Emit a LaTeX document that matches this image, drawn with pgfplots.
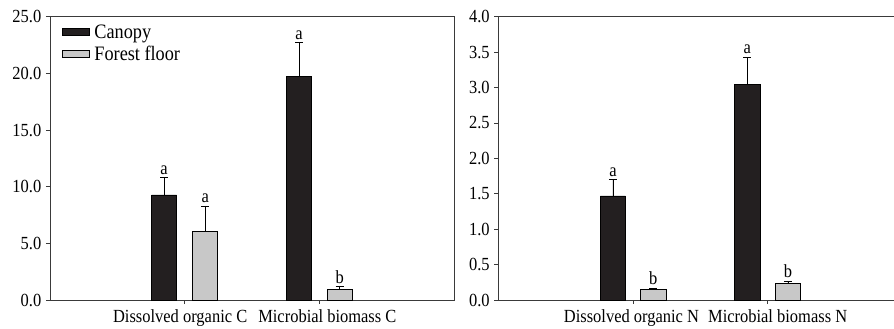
\documentclass[border=0pt]{standalone}
\usepackage{fontspec}
\setmainfont{Liberation Serif}[FakeStretch=0.89]
\usepackage{pgfplots}
\pgfplotsset{compat=1.18}
\definecolor{canopy}{HTML}{231F20}
\definecolor{ffloor}{HTML}{C8C8C8}
\definecolor{axisgray}{HTML}{3A3A3A}
\newcommand{\fs}{\fontsize{18.5}{21}\selectfont}
\newcommand{\fl}{\fontsize{20.5}{23}\selectfont}

\pgfplotsset{
  panel/.style={
    width=404pt, height=283.3pt, scale only axis,
    xmin=0, xmax=3, ymin=0,
    xtick={1,2},
    tick align=outside, xtick pos=bottom, ytick pos=left,
    major tick length=4pt,
    axis line style={axisgray, line width=0.8pt},
    tick style={axisgray, line width=0.8pt},
    font=\fs,
    ticklabel style={font=\fs},
    yticklabel style={inner sep=4.5pt,/pgf/number format/.cd, fixed, fixed zerofill, precision=1, assume math mode=true},
    xticklabel style={inner sep=5pt},
    clip=false,
  },
  errs/.style={error bars/.cd, y dir=plus, y explicit, error mark=-,
    error bar style={line width=0.7pt, black},
    error mark options={rotate=90, mark size=4pt, line width=0.7pt, black}},
  cbar/.style={ybar, bar width=0.186, bar shift=0pt, fill=canopy, draw=black, line width=0.6pt, errs},
  fbar/.style={ybar, bar width=0.186, bar shift=0pt, fill=ffloor, draw=black, line width=0.6pt, errs},
  letters/.style={draw=none, mark=none, nodes near coords, point meta=explicit symbolic,
    nodes near coords style={anchor=south, inner sep=0pt, yshift=3pt, font=\fs, black}},
}

\begin{document}
\begin{tikzpicture}
\begin{axis}[panel, name=left, at={(0pt,0pt)}, anchor=south west,
  ymax=25, ytick={0,5,...,25},
  xticklabels={{Dissolved organic C\hspace*{9pt}}, {\hspace*{16pt}Microbial biomass C}},
  legend style={at={(0.03,0.98)}, anchor=north west, draw=none, fill=none,
    font=\fl, row sep=2pt, inner sep=0pt,
    /tikz/every odd column/.append style={column sep=3pt}},
  legend cell align=left,
  legend image code/.code={\draw[#1, line width=0.6pt] (0pt,-3.5pt) rectangle (26.5pt,3.5pt);},
]
\addplot[cbar] coordinates {(0.847,9.27) +- (0,1.53) (1.849,19.7) +- (0,3.0)};
\addlegendentry{Canopy}
\addplot[fbar] coordinates {(1.153,6.03) +- (0,2.27) (2.151,0.94) +- (0,0.23)};
\addlegendentry{Forest floor}
\addplot[letters, forget plot] coordinates {(0.847,10.8) [a] (1.153,8.3) [a] (1.849,22.7) [a] (2.151,1.17) [b]};
\end{axis}

\begin{axis}[panel, name=right, at={(448.3pt,0pt)}, anchor=south west,
  ymax=4, ytick={0,0.5,...,4},
  xticklabels={{Dissolved organic N\hspace*{3pt}}, {\hspace*{20pt}Microbial biomass N}},
]
\addplot[cbar] coordinates {(0.851,1.47) +- (0,0.23) (1.849,3.045) +- (0,0.385)};
\addplot[fbar] coordinates {(1.151,0.151) +- (0,0.014) (2.151,0.235) +- (0,0.035)};
\addplot[letters] coordinates {(0.851,1.70) [a] (1.151,0.165) [b] (1.849,3.43) [a] (2.151,0.27) [b]};
\end{axis}
\pgfresetboundingbox
\useasboundingbox (-50pt,-29pt) rectangle (844pt,300pt);
\end{tikzpicture}
\end{document}
